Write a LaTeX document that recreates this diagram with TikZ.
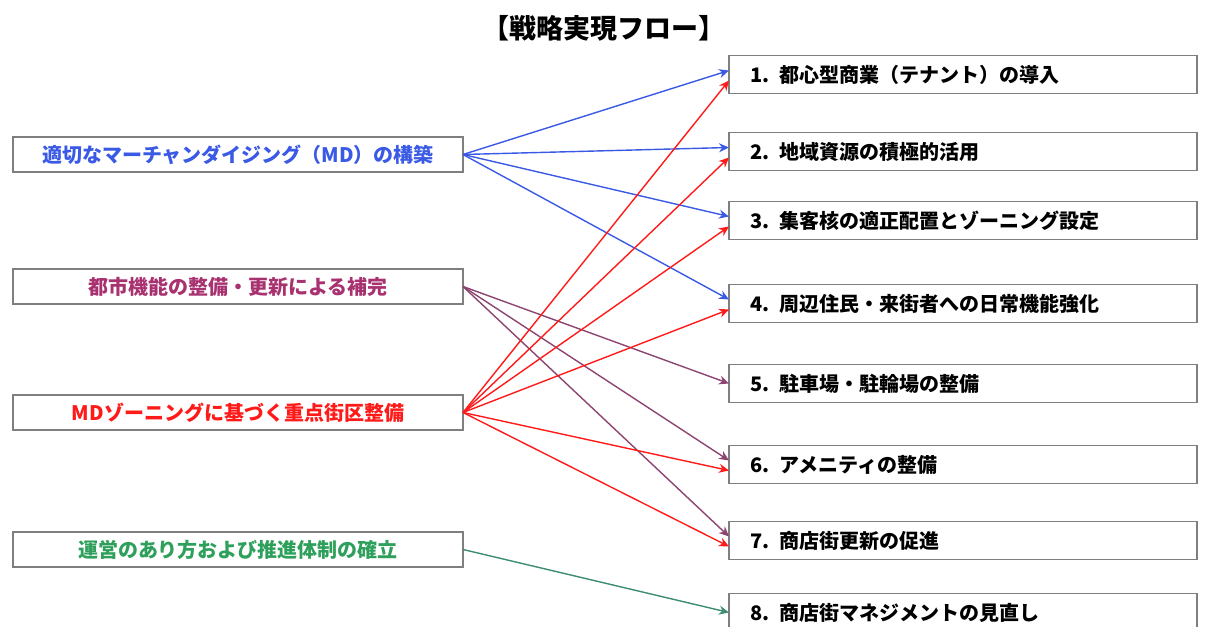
\documentclass[tikz,border=0pt]{standalone}
\usepackage{fontspec}
\setmainfont{Noto Sans CJK JP}
\usetikzlibrary{positioning, arrows.meta}
\definecolor{mdblue}{HTML}{3A5AE6}
\definecolor{urbanpurple}{HTML}{A83270}
\definecolor{urbanline}{HTML}{8C4570}
\definecolor{zonered}{HTML}{FF1A1A}
\definecolor{mgmtgreen}{HTML}{2FA05C}
\definecolor{mgmtline}{HTML}{3C8C6E}
\definecolor{boxgray}{HTML}{7F7F7F}

\begin{document}
\begin{tikzpicture}[
    x=0.5pt, y=0.5pt,
    >={Stealth[length=5pt, width=4.5pt]},
    every node/.style={font=\fontsize{10pt}{12pt}\selectfont\bfseries},
    strategy/.style={
        draw=boxgray, line width=0.7pt, minimum width=225pt, outer sep=0pt,
        minimum height=17.5pt, inner sep=0pt, align=center
    },
    measure/.style={
        draw=boxgray, line width=0.7pt, text width=213pt, inner xsep=10.5pt,
        inner ysep=0pt, minimum height=19pt, outer sep=0pt, align=left
    },
    flow/.style={->, line width=0.7pt},
]
\useasboundingbox (0,0) rectangle (1207,627);

% === Title ===
\node[font=\fontsize{13.5pt}{15pt}\selectfont\bfseries] (title) at (604,599)
    {【戦略実現フロー】};

% === Strategies (left) ===
\node[strategy, text=mdblue] (md) at (238,472.5)
    {適切なマーチャンダイジング（MD）の構築};
\node[strategy, text=urbanpurple, below=48.5pt of md] (urban)
    {都市機能の整備・更新による補完};
\node[strategy, text=zonered, below=45.5pt of urban] (zoning)
    {MDゾーニングに基づく重点街区整備};
\node[strategy, text=mgmtgreen, below=51pt of zoning] (mgmt)
    {運営のあり方および推進体制の確立};

% === Measures (right) ===
\node[measure, anchor=west] (tenant) at (729,552.5)
    {1. 都心型商業（テナント）の導入};
\node[measure, below=19.5pt of tenant] (resource)
    {2. 地域資源の積極的活用};
\node[measure, below=15.5pt of resource] (core)
    {3. 集客核の適正配置とゾーニング設定};
\node[measure, below=22.5pt of core] (daily)
    {4. 周辺住民・来街者への日常機能強化};
\node[measure, below=21pt of daily] (parking)
    {5. 駐車場・駐輪場の整備};
\node[measure, below=21.5pt of parking] (amenity)
    {6. アメニティの整備};
\node[measure, below=19pt of amenity] (renewal)
    {7. 商店街更新の促進};
\node[measure, below=17pt of renewal] (manage)
    {8. 商店街マネジメントの見直し};

% ===== ARROWS =====

% MD -> 1-4
\foreach \to in {tenant, resource, core, daily}
    \draw[flow, mdblue] (md.east) -- ([yshift=2pt]\to.west);

% Urban functions -> 5-7
\draw[flow, urbanline] (urban.east) -- (parking.west);
\foreach \to in {amenity, renewal}
    \draw[flow, urbanline] (urban.east) -- ([yshift=2pt]\to.west);

% Zoning -> 1-4, 6, 7
\foreach \to in {tenant, resource, core, daily, amenity, renewal}
    \draw[flow, zonered] (zoning.east) -- ([yshift=-3pt]\to.west);

% Management -> 8
\draw[flow, mgmtline] (mgmt.east) -- (manage.west);

\end{tikzpicture}
\end{document}
